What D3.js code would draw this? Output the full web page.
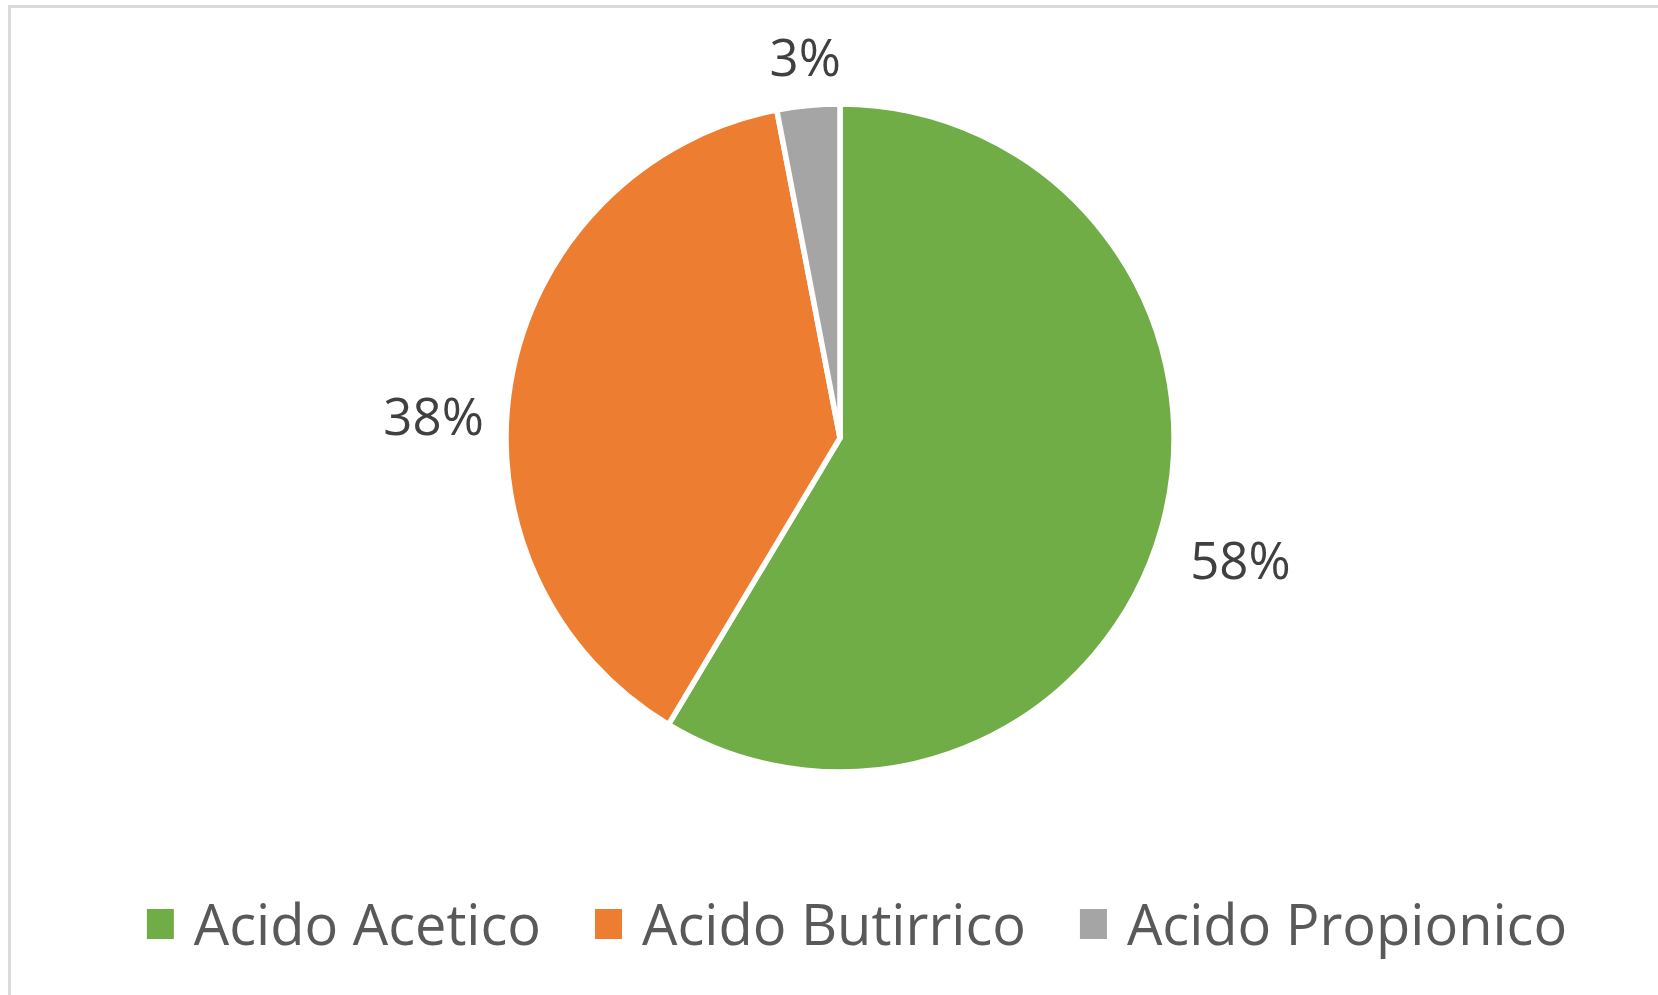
<!DOCTYPE html>
<html>
<head>
<meta charset="utf-8">
<script src="https://cdn.jsdelivr.net/npm/d3@7"></script>
<style>
  html, body { margin: 0; padding: 0; background: #ffffff; overflow: hidden; }
  svg { display: block; }
  text { font-family: "Open Sans", "Noto Sans", sans-serif; }
</style>
</head>
<body>
<svg id="chart" width="1658" height="995"></svg>
<script>
// Composizione degli acidi grassi volatili (percentuali)
const categories = ["Acido Acetico", "Acido Butirrico", "Acido Propionico"];
const values = [58, 38, 3];
const colors = ["#70AD47", "#ED7D31", "#A5A5A5"];

const W = 1658, H = 995;
const cx = 840, cy = 438, radius = 334;
const labelSize = 51, legendSize = 56;
// small per-label offsets from the radial placement (outside-end labels)
const labelNudge = [[1, 12], [0, 50], [2, 5]];

const svg = d3.select("#chart");

// chart area frame
svg.append("rect")
  .attr("x", 9.5).attr("y", 6.5)
  .attr("width", W + 20).attr("height", H + 20)
  .attr("fill", "#ffffff")
  .attr("stroke", "#d9d9d9")
  .attr("stroke-width", 3);

const data = categories.map((c, i) => ({ name: c, value: values[i], color: colors[i] }));

const pie = d3.pie().sort(null).value(d => d.value);
const arcs = pie(data);
const arc = d3.arc().innerRadius(0).outerRadius(radius);

const g = svg.append("g").attr("transform", `translate(${cx},${cy})`);

g.selectAll("path.slice")
  .data(arcs)
  .join("path")
  .attr("class", "slice")
  .attr("d", arc)
  .attr("fill", d => d.data.color)
  .attr("stroke", "#ffffff")
  .attr("stroke-width", 5.5)
  .attr("stroke-linejoin", "miter");

// data labels placed just outside each slice
const capH = 0.714 * labelSize;
const pad = 19;
g.selectAll("text.lbl")
  .data(arcs)
  .join("text")
  .attr("class", "lbl")
  .attr("text-anchor", "middle")
  .attr("font-size", labelSize)
  .attr("fill", "#404040")
  .text(d => d.data.value + "%")
  .each(function(d, i) {
    const a = (d.startAngle + d.endAngle) / 2;
    const s = Math.sin(a), c = Math.cos(a);
    const w = this.getComputedTextLength() + 10;
    const h = labelSize * 1.2;
    const dist = radius + pad + Math.abs(s) * w / 2 + Math.abs(c) * h / 2;
    const x = s * dist + labelNudge[i][0], y = -c * dist + labelNudge[i][1];
    d3.select(this).attr("x", x).attr("y", y + capH / 2);
  });

// legend along the bottom
const legend = svg.append("g");
const sw = 27, sh = 30, gapText = 20, gapItem = 54;
const legendBaseline = 945;
const items = legend.selectAll("g.item")
  .data(data)
  .join("g")
  .attr("class", "item");

items.append("rect")
  .attr("width", sw).attr("height", sh)
  .attr("y", 909)
  .attr("fill", d => d.color);

items.append("text")
  .attr("font-size", legendSize)
  .attr("fill", "#595959")
  .attr("y", legendBaseline)
  .text(d => d.name);

let widths = [];
items.select("text").each(function() { widths.push(this.getComputedTextLength()); });
const total = widths.reduce((s, w) => s + sw + gapText + w, 0) + gapItem * (widths.length - 1);
let x0 = 857 - total / 2;
items.each(function(d, i) {
  const item = d3.select(this);
  item.select("rect").attr("x", x0);
  item.select("text").attr("x", x0 + sw + gapText);
  x0 += sw + gapText + widths[i] + gapItem;
});
</script>
</body>
</html>
